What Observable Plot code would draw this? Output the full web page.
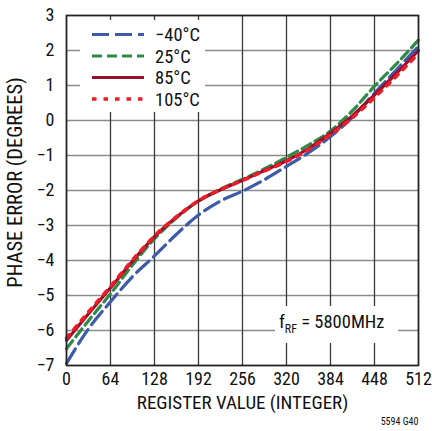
<!DOCTYPE html>
<html><head><meta charset="utf-8">
<script src="https://cdn.jsdelivr.net/npm/d3@7"></script>
<script src="https://cdn.jsdelivr.net/npm/@observablehq/plot@0.6"></script>
<style>body{margin:0;background:#fff}</style>
</head><body><div id="chart"></div>
<script>
// ---- data ----
const registerValues = [0, 32, 64, 96, 128, 160, 192, 224, 256, 288, 320, 352, 384, 416, 448, 480, 512];
const errMinus40 = [-6.94, -5.95, -5.18, -4.46, -3.87, -3.25, -2.70, -2.30, -2.02, -1.69, -1.31, -0.92, -0.46, 0.10, 0.78, 1.45, 2.12];
const err25      = [-6.52, -5.72, -4.95, -4.13, -3.38, -2.78, -2.30, -1.96, -1.68, -1.38, -1.05, -0.70, -0.30, 0.28, 0.98, 1.62, 2.30];
const err85      = [-6.28, -5.52, -4.78, -4.02, -3.32, -2.76, -2.30, -1.98, -1.71, -1.43, -1.15, -0.80, -0.36, 0.14, 0.73, 1.35, 2.00];
const err105     = [-6.22, -5.47, -4.74, -3.99, -3.30, -2.75, -2.29, -1.97, -1.71, -1.44, -1.17, -0.83, -0.40, 0.08, 0.66, 1.27, 1.92];
const temps = ["\u221240°C", "25°C", "85°C", "105°C"];
const xTicks = [0, 64, 128, 192, 256, 320, 384, 448, 512];
const yTicks = [3, 2, 1, 0, -1, -2, -3, -4, -5, -6, -7];

// ---- styles ----
const colors = ["#3d5ba9", "#2f8a48", "#9a0f2b", "#ee1c25"];
const dashes = ["17,6", "10,5", null, "4.5,7"];
const widths = [3.2, 3.2, 3.2, 3.6];
const FONT = '"Liberation Sans Narrow","Arial Narrow","Roboto Condensed","DejaVu Sans Condensed",sans-serif';

const seriesValues = [errMinus40, err25, err85, err105];
const rows = [];
temps.forEach((t, i) => registerValues.forEach((r, j) => rows.push({temp: t, reg: r, err: seriesValues[i][j]})));

function overlay(index, scales, values, dims) {
  const g = d3.create("svg:g").attr("font-family", FONT).attr("text-anchor", "start");
  const L = dims.marginLeft, T = dims.marginTop;
  const R = dims.width - dims.marginRight, B = dims.height - dims.marginBottom;
  // legend background + entries
  g.append("rect").attr("x", L + 14).attr("y", T + 5).attr("width", 125).attr("height", 92)
    .attr("fill", "#ffffff").style("fill", "#ffffff").attr("stroke", "none");
  temps.forEach((t, i) => {
    const yy = T + 19.5 + i * 21.5;
    const ln = g.append("line").attr("x1", L + 26).attr("x2", L + 78).attr("y1", yy).attr("y2", yy)
      .attr("stroke", colors[i]).attr("stroke-width", widths[i]);
    if (dashes[i]) ln.attr("stroke-dasharray", dashes[i]);
    g.append("text").attr("x", L + 89).attr("y", yy).attr("dy", "0.36em").attr("font-size", 18.5)
      .attr("fill", "#111").text(t);
  });
  // annotation
  g.append("rect").attr("x", R - 143).attr("y", B - 59).attr("width", 123).attr("height", 37)
    .attr("fill", "#ffffff").style("fill", "#ffffff").attr("stroke", "none");
  const tx = g.append("text").attr("x", R - 139).attr("y", B - 37).attr("font-size", 18.5).attr("fill", "#111");
  tx.append("tspan").text("f");
  tx.append("tspan").attr("font-size", 12).attr("dy", 5).text("RF");
  tx.append("tspan").attr("dy", -5).text(" = 5800MHz");
  return g.node();
}

const chart = Plot.plot({
  width: 432, height: 431,
  marginTop: 15, marginLeft: 66, marginRight: 14, marginBottom: 66,
  style: {fontFamily: FONT, fontSize: "18px", color: "#111", background: "white"},
  x: {domain: [0, 512]},
  y: {domain: [-7, 3]},
  marks: [
    Plot.ruleY(yTicks, {stroke: "#8c8c8c", strokeWidth: 1.5}),
    Plot.ruleX(xTicks, {stroke: "#3a3a3a", strokeWidth: 1.3}),
    overlay,
    ...temps.map((t, i) => Plot.line(rows.filter(d => d.temp === t), {
      x: "reg", y: "err", stroke: colors[i], strokeWidth: widths[i],
      strokeDasharray: dashes[i] ?? undefined, curve: "monotone-x"
    })),
    Plot.frame({stroke: "#222", strokeWidth: 1.6}),
    Plot.axisX({ticks: xTicks, tickSize: 0, tickPadding: 7, label: null}),
    Plot.axisY({ticks: yTicks, tickSize: 0, tickPadding: 12, label: null}),
    Plot.text(["REGISTER VALUE (INTEGER)"], {text: d => d, frameAnchor: "bottom", textAnchor: "middle", dy: 43, fontSize: 19}),
    Plot.text(["PHASE ERROR (DEGREES)"], {text: d => d, frameAnchor: "left", textAnchor: "middle", rotate: -90, dx: -51, dy: -8, fontSize: 20.5}),
    Plot.text(["5594 G40"], {text: d => d, frameAnchor: "bottom-right", textAnchor: "end", dy: 59, fontSize: 10})
  ]
});
document.getElementById("chart").append(chart);
</script>
</body></html>
